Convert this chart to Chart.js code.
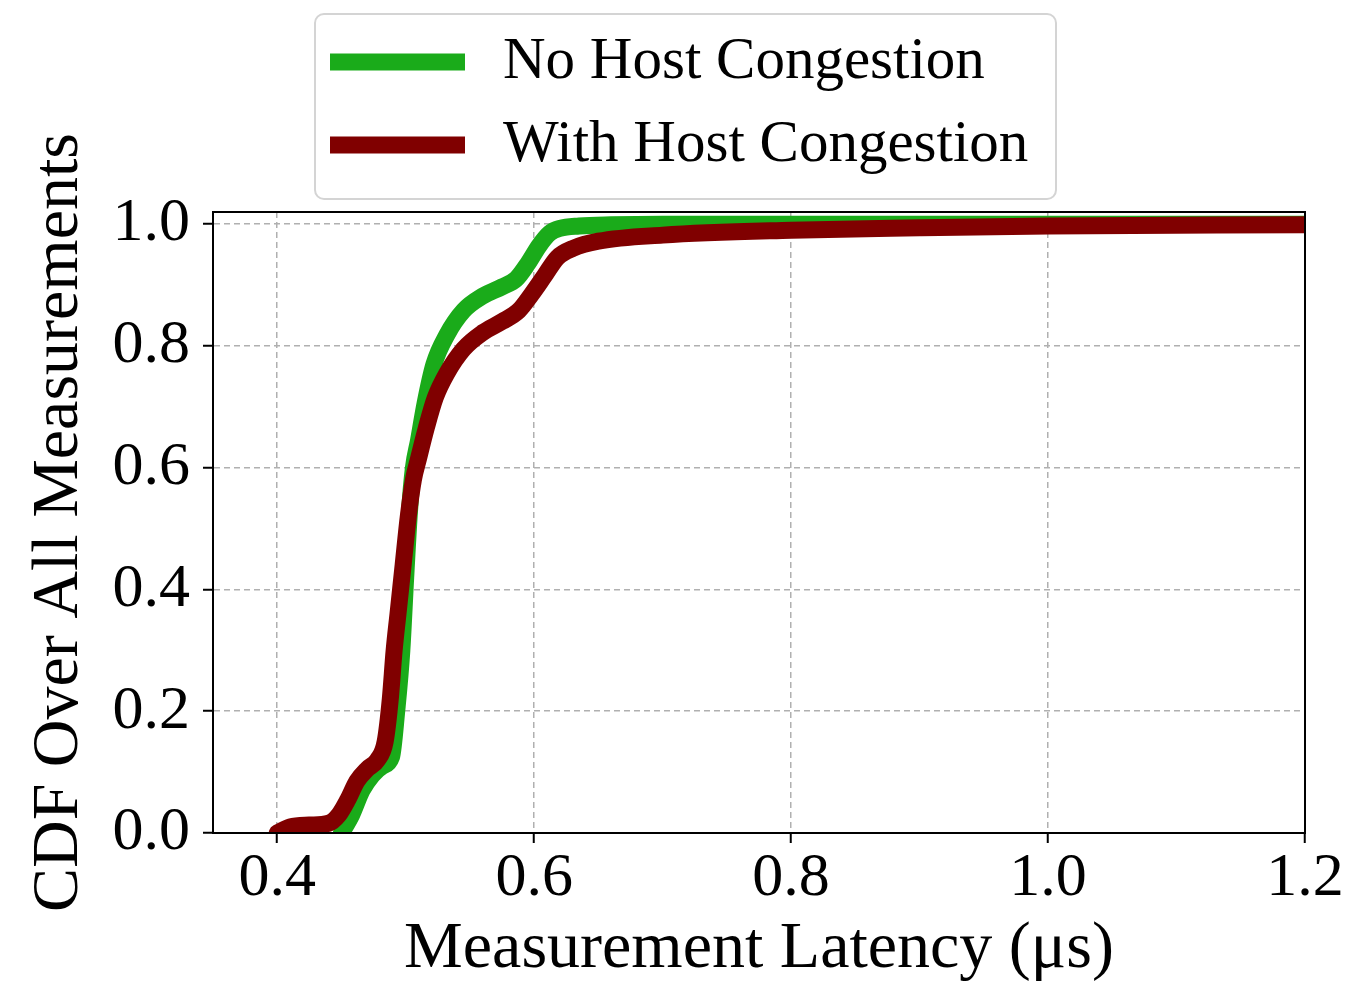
<!DOCTYPE html>
<html>
<head>
<meta charset="utf-8">
<script src="https://cdn.jsdelivr.net/npm/chart.js@4"></script>
<style>
  html, body { margin: 0; padding: 0; background: #fff; }
  #wrap { width: 1352px; height: 983px; position: relative; }
</style>
</head>
<body>
<div id="wrap"><canvas id="c"></canvas></div>
<script>
// ---- data ----
const seriesNames = ["No Host Congestion", "With Host Congestion"];
const greenX = [0.450, 0.458, 0.466, 0.474, 0.482, 0.489, 0.493, 0.497, 0.500, 0.503, 0.506, 0.510, 0.515, 0.522, 0.532, 0.545, 0.560, 0.575, 0.586, 0.595, 0.604, 0.612, 0.620, 0.635, 0.660, 0.700, 0.800, 1.000, 1.200];
const greenY = [0.000, 0.030, 0.070, 0.095, 0.110, 0.125, 0.200, 0.300, 0.420, 0.530, 0.600, 0.645, 0.705, 0.770, 0.818, 0.858, 0.882, 0.897, 0.910, 0.935, 0.965, 0.985, 0.993, 0.997, 0.999, 1.000, 1.000, 1.000, 1.000];
const redX = [0.400, 0.410, 0.425, 0.440, 0.448, 0.455, 0.462, 0.470, 0.478, 0.484, 0.488, 0.491, 0.494, 0.498, 0.502, 0.506, 0.510, 0.516, 0.523, 0.532, 0.545, 0.560, 0.575, 0.588, 0.598, 0.608, 0.618, 0.630, 0.650, 0.700, 0.800, 0.900, 1.000, 1.200];
const redY = [0.000, 0.010, 0.013, 0.016, 0.030, 0.055, 0.085, 0.105, 0.120, 0.150, 0.220, 0.300, 0.360, 0.440, 0.520, 0.580, 0.615, 0.665, 0.715, 0.755, 0.795, 0.822, 0.840, 0.858, 0.885, 0.915, 0.945, 0.960, 0.972, 0.982, 0.990, 0.994, 0.997, 0.999];
const xTickValues = [0.4, 0.6, 0.8, 1.0, 1.2];
const yTickValues = [0.0, 0.2, 0.4, 0.6, 0.8, 1.0];
const xTitle = "Measurement Latency (\u03bcs)";
const yTitle = "CDF Over All Measurements";

const GREEN = '#1aab1a';
const RED = '#800000';
const SERIF = "'Liberation Serif', 'DejaVu Serif', serif";

const toPts = (xs, ys) => xs.map((x, i) => ({x: x, y: ys[i]}));

const frameAndLegend = {
  id: 'frameAndLegend',
  afterDatasetsDraw(chart) {
    const {ctx, chartArea: a} = chart;
    ctx.save();
    ctx.strokeStyle = '#000';
    ctx.lineWidth = 2;
    ctx.strokeRect(a.left, a.top, a.right - a.left, a.bottom - a.top);
    ctx.restore();
  },
  afterDraw(chart) {
    const ctx = chart.ctx;
    ctx.save();
    // legend box
    const bx = 315, by = 14, bw = 741, bh = 185, r = 9;
    ctx.beginPath();
    ctx.moveTo(bx + r, by);
    ctx.arcTo(bx + bw, by, bx + bw, by + bh, r);
    ctx.arcTo(bx + bw, by + bh, bx, by + bh, r);
    ctx.arcTo(bx, by + bh, bx, by, r);
    ctx.arcTo(bx, by, bx + bw, by, r);
    ctx.closePath();
    ctx.fillStyle = 'rgba(255,255,255,0.8)';
    ctx.fill();
    ctx.strokeStyle = '#d4d4d4';
    ctx.lineWidth = 2;
    ctx.stroke();
    const rows = [62, 145];
    chart.data.datasets.forEach((ds, i) => {
      const y = rows[i];
      ctx.beginPath();
      ctx.moveTo(330, y);
      ctx.lineTo(465, y);
      ctx.strokeStyle = ds.borderColor;
      ctx.lineWidth = 17;
      ctx.lineCap = 'butt';
      ctx.stroke();
      ctx.fillStyle = '#000';
      ctx.font = "59px " + SERIF;
      ctx.textBaseline = 'middle';
      ctx.textAlign = 'left';
      ctx.fillText(ds.label, 503, y);
    });
    ctx.restore();
  }
};

new Chart(document.getElementById('c'), {
  type: 'line',
  data: {
    datasets: [
      { label: seriesNames[0], data: toPts(greenX, greenY), borderColor: GREEN, backgroundColor: GREEN,
        borderWidth: 17, pointRadius: 0, cubicInterpolationMode: 'monotone', fill: false, order: 1,
        borderJoinStyle: 'round', borderCapStyle: 'round', clip: 0 },
      { label: seriesNames[1], data: toPts(redX, redY), borderColor: RED, backgroundColor: RED,
        borderWidth: 17, pointRadius: 0, cubicInterpolationMode: 'monotone', fill: false, order: 0,
        borderJoinStyle: 'round', borderCapStyle: 'round', clip: 0 }
    ]
  },
  options: {
    responsive: true,
    maintainAspectRatio: false,
    animation: false,
    events: [],
    layout: { padding: { left: 0, top: 212, right: 47, bottom: 0 } },
    plugins: { legend: { display: false }, tooltip: { enabled: false } },
    scales: {
      x: {
        type: 'linear', min: 0.35, max: 1.2,
        afterBuildTicks: (s) => { s.ticks = xTickValues.map(v => ({value: v})); },
        afterFit: (s) => { s.height = 150; },
        ticks: { color: '#000', font: { family: SERIF, size: 62, lineHeight: 1.0 }, padding: 5,
                 maxRotation: 0, autoSkip: false, callback: (v) => Number(v).toFixed(1) },
        grid: { color: '#b0b0b0', lineWidth: 1.5, tickColor: '#000', tickLength: 10, tickWidth: 2 },
        border: { color: '#000', width: 2, dash: [6, 4] },
        title: { display: true, text: xTitle, color: '#000', font: { family: SERIF, size: 66, lineHeight: 1.0 }, padding: { top: 0, bottom: 0 } }
      },
      y: {
        type: 'linear', min: 0, max: 1.02,
        afterBuildTicks: (s) => { s.ticks = yTickValues.map(v => ({value: v})); },
        afterFit: (s) => { s.width = 213; },
        ticks: { color: '#000', font: { family: SERIF, size: 62, lineHeight: 1.0 }, padding: 13,
                 autoSkip: false, callback: (v) => Number(v).toFixed(1) },
        grid: { color: '#b0b0b0', lineWidth: 1.5, tickColor: '#000', tickLength: 10, tickWidth: 2 },
        border: { color: '#000', width: 2, dash: [6, 4] },
        title: { display: true, text: yTitle, color: '#000', font: { family: SERIF, size: 66, lineHeight: 1.0 }, padding: { top: 27, bottom: 0 } }
      }
    }
  },
  plugins: [frameAndLegend]
});
</script>
</body>
</html>
